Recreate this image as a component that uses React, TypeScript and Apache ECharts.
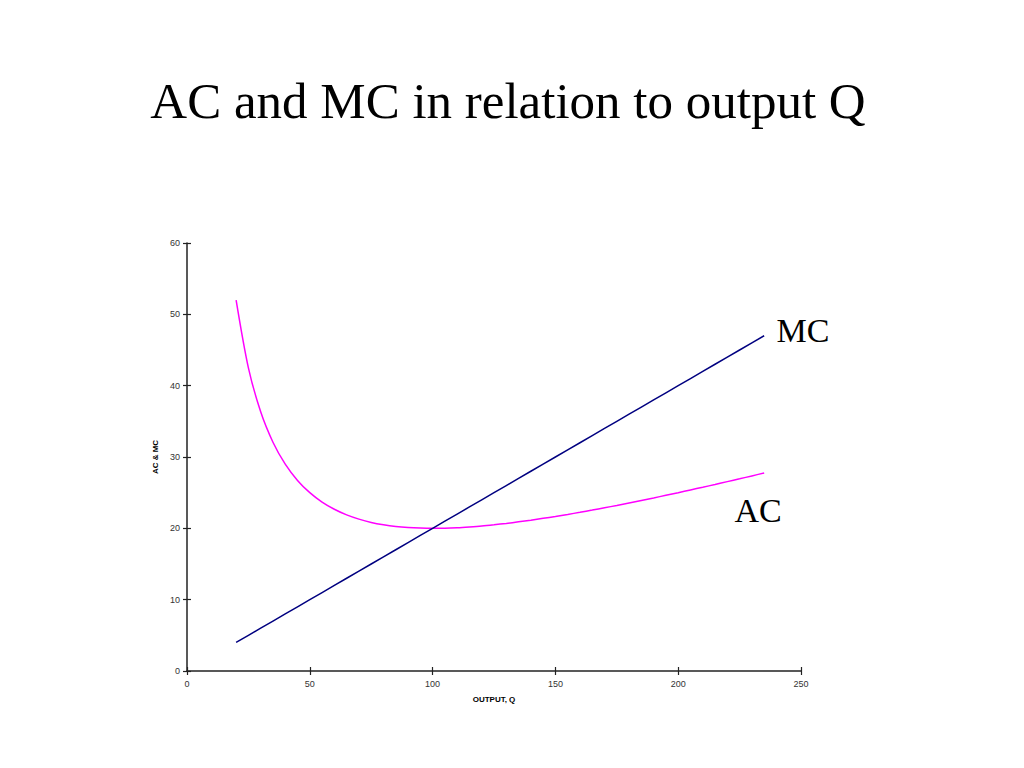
import React, { useEffect, useRef } from "react";
import * as echarts from "echarts";

const titleText = "AC and MC in relation to output Q";
const xAxisName = "OUTPUT, Q";
const yAxisName = "AC & MC";
const outputQ = [20, 25, 30, 35, 40, 45, 50, 55, 60, 65, 70, 75, 80, 85, 90, 95, 100, 105, 110, 115, 120, 125, 130, 135, 140, 145, 150, 155, 160, 165, 170, 175, 180, 185, 190, 195, 200, 205, 210, 215, 220, 225, 230, 235];
const acValues = [52, 42.5, 36.33, 32.07, 29, 26.72, 25, 23.68, 22.67, 21.88, 21.29, 20.83, 20.5, 20.26, 20.11, 20.03, 20, 20.02, 20.09, 20.2, 20.33, 20.5, 20.69, 20.91, 21.14, 21.4, 21.67, 21.95, 22.25, 22.56, 22.88, 23.21, 23.56, 23.91, 24.26, 24.63, 25, 25.38, 25.76, 26.15, 26.55, 26.94, 27.35, 27.76];
const mcValues = [4, 5, 6, 7, 8, 9, 10, 11, 12, 13, 14, 15, 16, 17, 18, 19, 20, 21, 22, 23, 24, 25, 26, 27, 28, 29, 30, 31, 32, 33, 34, 35, 36, 37, 38, 39, 40, 41, 42, 43, 44, 45, 46, 47];

export default function App() {
  const ref = useRef<HTMLDivElement>(null);
  useEffect(() => {
    if (!ref.current) return;
    const chart = echarts.init(ref.current, null, { renderer: "svg" });
    const axisColor = "#222";
    const labelStyle = { fontFamily: "Arial, 'Liberation Sans', sans-serif", fontSize: 9, color: "#333" };
    const nameStyle = { fontFamily: "Arial, 'Liberation Sans', sans-serif", fontSize: 8, fontWeight: "bold", color: "#000" };
    chart.setOption({
      animation: false,
      backgroundColor: "#fff",
      grid: { left: 187, right: 223, top: 243, bottom: 97, containLabel: false },
      xAxis: [
        {
          type: "value", min: 0, max: 250, interval: 50,
          name: xAxisName, nameLocation: "middle", nameGap: 24, nameTextStyle: nameStyle,
          axisLine: { show: true, lineStyle: { color: axisColor, width: 1.5 } },
          axisTick: { show: true, length: 4, lineStyle: { color: axisColor, width: 1.2 } },
          axisLabel: { ...labelStyle, margin: 8 },
          splitLine: { show: false },
        },
        {
          type: "value", min: 0, max: 250, interval: 50, position: "bottom",
          axisLine: { show: false },
          axisTick: { show: true, inside: true, length: 4, lineStyle: { color: axisColor, width: 1.2 } },
          axisLabel: { show: false },
          splitLine: { show: false },
        },
      ],
      yAxis: [
        {
          type: "value", min: 0, max: 60, interval: 10,
          name: yAxisName, nameLocation: "middle", nameGap: 26, nameTextStyle: nameStyle,
          axisLine: { show: true, lineStyle: { color: axisColor, width: 1.5 } },
          axisTick: { show: true, length: 4, lineStyle: { color: axisColor, width: 1.2 } },
          axisLabel: { ...labelStyle, margin: 7 },
          splitLine: { show: false },
        },
        {
          type: "value", min: 0, max: 60, interval: 10, position: "left",
          axisLine: { show: false },
          axisTick: { show: true, inside: true, length: 4, lineStyle: { color: axisColor, width: 1.2 } },
          axisLabel: { show: false },
          splitLine: { show: false },
        },
      ],
      series: [
        {
          name: "AC", type: "line", smooth: 0.3, showSymbol: false,
          data: outputQ.map((q, i) => [q, acValues[i]]),
          lineStyle: { color: "#FF00FF", width: 1.5 },
        },
        {
          name: "MC", type: "line", showSymbol: false,
          data: outputQ.map((q, i) => [q, mcValues[i]]),
          lineStyle: { color: "#000080", width: 1.5 },
        },
      ],
      graphic: [
        {
          type: "text", x: 508, y: 101,
          style: { text: titleText, fontFamily: "'Liberation Serif', 'Times New Roman', serif", fontSize: 51, fill: "#000", align: "center", verticalAlign: "middle" },
        },
        {
          type: "text", x: 803, y: 330,
          style: { text: "MC", fontFamily: "'Liberation Serif', 'Times New Roman', serif", fontSize: 34, fill: "#000", align: "center", verticalAlign: "middle" },
        },
        {
          type: "text", x: 758, y: 510,
          style: { text: "AC", fontFamily: "'Liberation Serif', 'Times New Roman', serif", fontSize: 34, fill: "#000", align: "center", verticalAlign: "middle" },
        },
      ],
    });
    return () => chart.dispose();
  }, []);
  return <div ref={ref} style={{ position: "fixed", left: 0, top: 0, width: 1024, height: 768 }} />;
}
